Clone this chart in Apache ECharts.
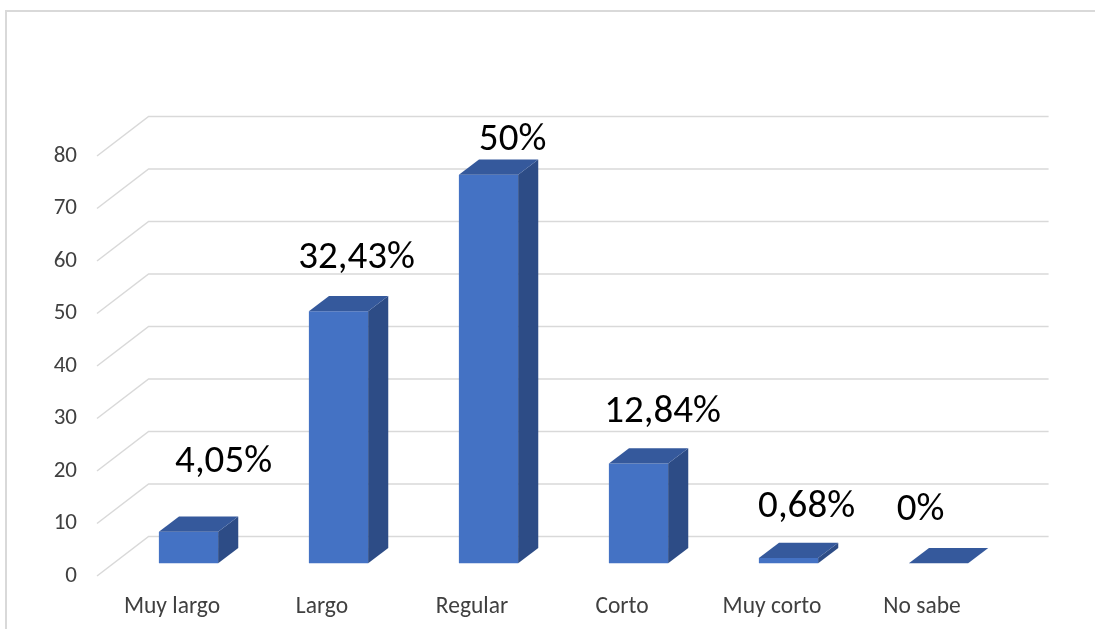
<!DOCTYPE html>
<html lang="es">
<head>
    <meta charset="UTF-8">
    <title>Barras 3D</title>
    <style>
        html, body { margin: 0; padding: 0; background: #fff; }
        #main { width: 1095px; height: 629px; }
    </style>
</head>
<body>
<div id="main"></div>
<script src="https://cdn.jsdelivr.net/npm/echarts@6/dist/echarts.min.js"></script>
<script type="text/javascript">
    // datos (148 respuestas)
    var categorias = ['Muy largo', 'Largo', 'Regular', 'Corto', 'Muy corto', 'No sabe'];
    var valores = [6, 48, 74, 19, 1, 0];
    var porcentajes = ['4,05%', '32,43%', '50%', '12,84%', '0,68%', '0%'];
    var ticks = [0, 10, 20, 30, 40, 50, 60, 70, 80];

    // ajuste manual de cada etiqueta (px), como en el original
    var ajusteEtiqueta = [[13, -16], [-4, 0], [2, 19], [2, 2], [-4, 3], [-40, 0]];

    // profundidad de la perspectiva (pared trasera respecto al plano frontal)
    var FONDO_X = 51.6, FONDO_Y = -39.6;
    var BARRA_INI = 0.32, BARRA_PROF = 0.39, BARRA_ANCHO = 0.395;
    var fuente = 'Calibri, Carlito, Lato, sans-serif';

    var myChart = echarts.init(document.getElementById('main'));

    myChart.setOption({
        backgroundColor: '#fff',
        animation: false,
        graphic: [{
            type: 'polyline',
            shape: { points: [[6, 700], [6, 11], [1200, 11]] },
            style: { stroke: '#d9d9d9', lineWidth: 2, fill: null },
            silent: true
        }],
        grid: {
            left: 97,
            right: 98,
            top: 156,
            bottom: 53
        },
        xAxis: {
            type: 'category',
            data: categorias,
            axisLine: { show: false },
            axisTick: { show: false },
            axisLabel: {
                margin: 19,
                fontSize: 23.5,
                color: '#404040',
                fontFamily: fuente
            }
        },
        yAxis: {
            type: 'value',
            min: 0,
            max: 80,
            interval: 10,
            splitLine: { show: false },
            axisLine: { show: false },
            axisTick: { show: false },
            axisLabel: {
                margin: 20,
                fontSize: 23,
                color: '#404040',
                fontFamily: fuente
            }
        },
        series: [
            {
                // lineas de division: diagonal lateral + pared trasera
                type: 'custom',
                z: 1,
                silent: true,
                data: ticks.map(function (t) { return [0, t]; }),
                encode: { x: 0, y: 1 },
                renderItem: function (params, api) {
                    var cs = params.coordSys;
                    var y = api.coord([0, api.value(1)])[1];
                    var x0 = cs.x;
                    return {
                        type: 'polyline',
                        shape: {
                            points: [
                                [x0, y],
                                [x0 + FONDO_X, y + FONDO_Y],
                                [x0 + FONDO_X + cs.width, y + FONDO_Y]
                            ]
                        },
                        style: { stroke: '#d9d9d9', lineWidth: 1.5, fill: null }
                    };
                }
            },
            {
                type: 'custom',
                z: 3,
                data: valores.map(function (v, i) { return [i, v]; }),
                encode: { x: 0, y: 1 },
                renderItem: function (params, api) {
                    var i = api.value(0), v = api.value(1);
                    var base = api.coord([i, 0]);
                    var tope = api.coord([i, v]);
                    var banda = api.size([1, 0])[0];
                    var w = banda * BARRA_ANCHO;
                    var ox = FONDO_X * BARRA_INI, oy = FONDO_Y * BARRA_INI;
                    var dx = FONDO_X * BARRA_PROF, dy = FONDO_Y * BARRA_PROF;
                    var L = base[0] + ox - w / 2, R = base[0] + ox + w / 2;
                    var y0 = base[1] + oy, y1 = tope[1] + oy;
                    var hijos = [];
                    if (y0 - y1 > 0.1) {
                        hijos.push({
                            type: 'rect',
                            shape: { x: L, y: y1, width: w, height: y0 - y1 },
                            style: { fill: '#4472C4' }
                        });
                        hijos.push({
                            type: 'polygon',
                            shape: { points: [[R, y1], [R + dx, y1 + dy], [R + dx, y0 + dy], [R, y0]] },
                            style: { fill: '#2D4C86' }
                        });
                    }
                    hijos.push({
                        type: 'polygon',
                        shape: { points: [[L, y1], [R, y1], [R + dx, y1 + dy], [L + dx, y1 + dy]] },
                        style: { fill: '#35599C' }
                    });
                    var aj = ajusteEtiqueta[params.dataIndex];
                    hijos.push({
                        type: 'text',
                        style: {
                            text: porcentajes[params.dataIndex],
                            x: (L + R) / 2 + dx / 2 + 12 + aj[0],
                            y: y1 + dy - 38 + aj[1],
                            align: 'center',
                            verticalAlign: 'middle',
                            fontSize: 39,
                            fontFamily: fuente,
                            fill: '#000'
                        }
                    });
                    return { type: 'group', children: hijos };
                }
            }
        ]
    });
</script>
</body>
</html>
